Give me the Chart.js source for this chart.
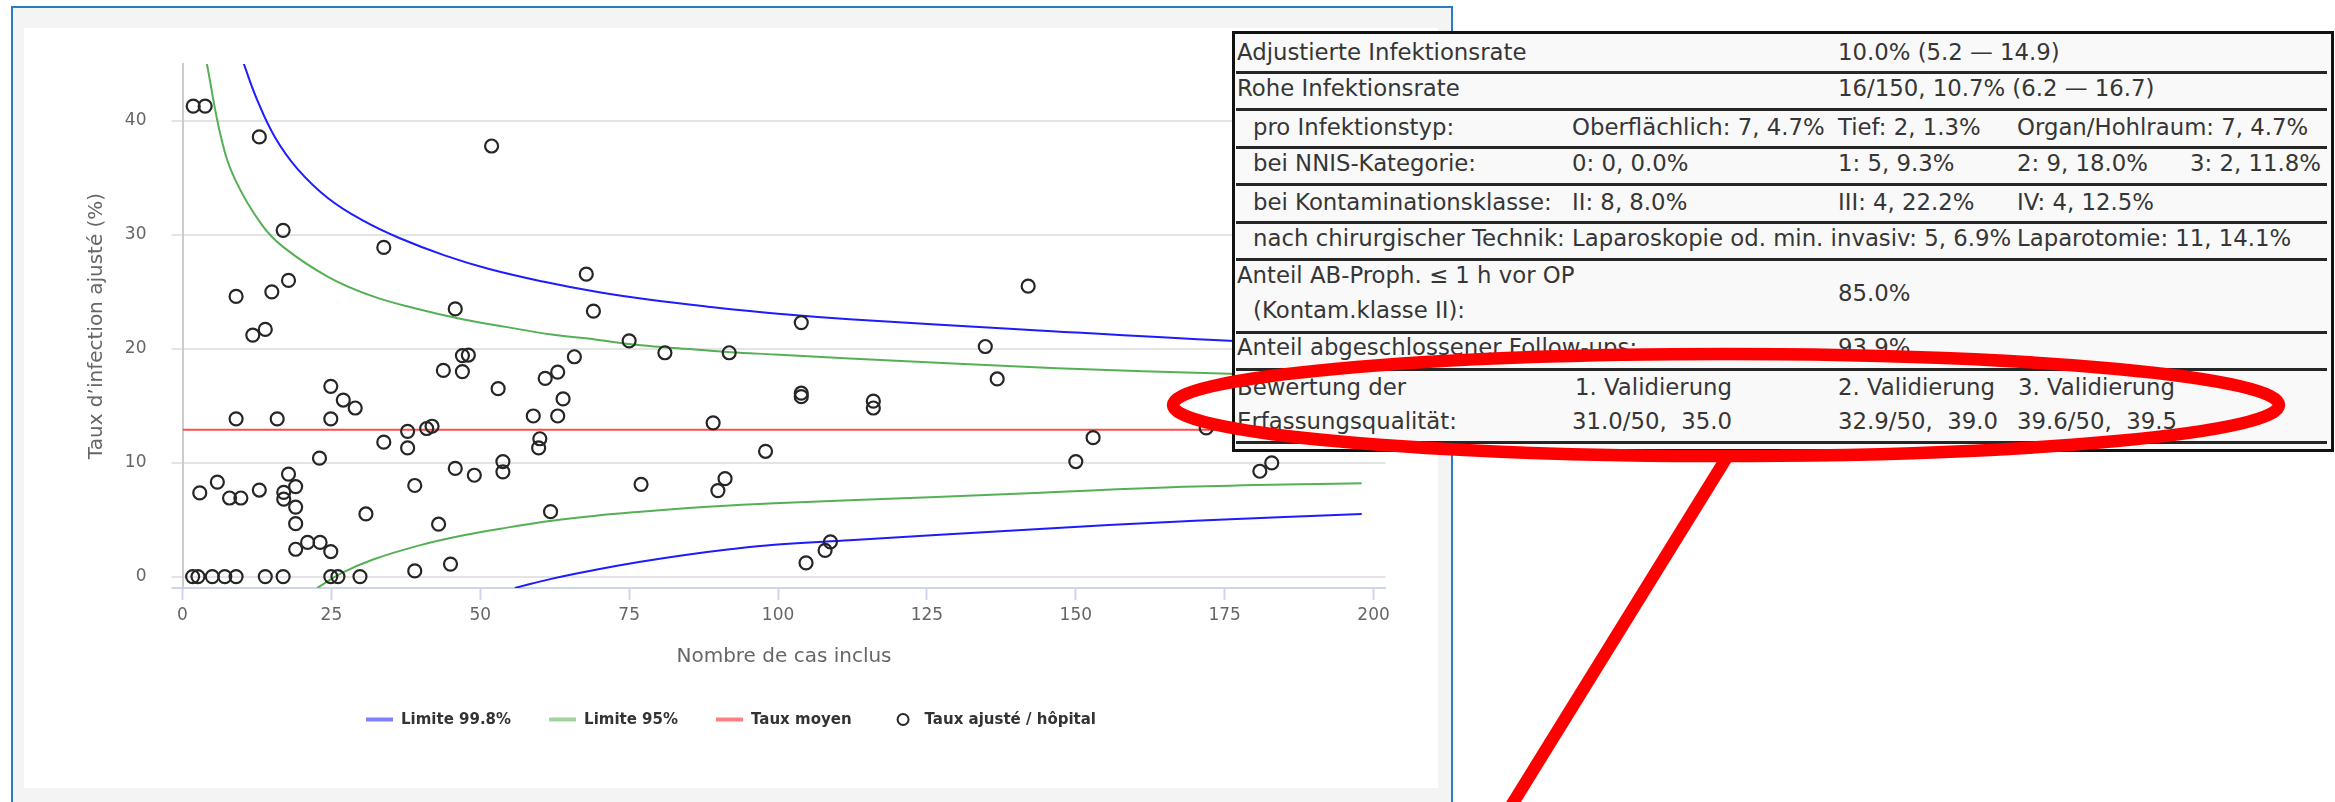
<!DOCTYPE html>
<html>
<head>
<meta charset="utf-8">
<title>Taux d’infection ajusté par hôpital</title>
<script src="https://cdn.jsdelivr.net/npm/chart.js@4.4.1/dist/chart.umd.min.js"></script>
<style>
  html, body { margin: 0; padding: 0; background: #ffffff; }
  body { position: relative; width: 2335px; height: 802px; overflow: hidden; font-family: "DejaVu Sans", sans-serif; }
  #panel { position: absolute; left: 11px; top: 6px; width: 1438px; height: 820px; border: 2px solid #2a7dc4; background: #f4f4f4; }
  #plotBg { position: absolute; left: 24px; top: 28px; width: 1414px; height: 760px; background: #ffffff; }
  #chart { position: absolute; left: 24px; top: 28px; }
  #stats { position: absolute; left: 1232px; top: 31px; width: 1096px; height: 415px; border: 3px solid #111111; background: #f9f9f9; }
  .cell { position: absolute; white-space: pre; font-size: 22.8px; line-height: 1; color: #363636; }
  .rule { position: absolute; left: 1236px; width: 1091px; height: 3px; background: #262626; }
  #callout { position: absolute; left: 0; top: 0; pointer-events: none; }
</style>
</head>
<body>
<div id="panel"></div>
<div id="plotBg"></div>
<canvas id="chart" width="1414" height="760"></canvas>
<div id="stats"></div>
<div id="statText"></div>
<svg id="callout" width="2335" height="802">
  <ellipse cx="1726" cy="405" rx="553" ry="51" fill="none" stroke="#ff0000" stroke-width="12.5"/>
  <line x1="1727" y1="457" x2="1490" y2="840" stroke="#ff0000" stroke-width="12.5"/>
</svg>

<script>
// Number of included cases per hospital and its adjusted infection rate (%)
const hospCases = [
  1.8, 3.8, 12.9, 16.9, 9.0, 15.0, 17.8, 11.8, 13.9,
  9.0, 15.9, 24.9, 24.9, 27.0, 29.0, 23.0,
  2.9, 5.85, 7.9, 9.8, 12.9, 17.0, 17.0, 17.8, 19.0, 19.0, 19.0, 19.0, 21.0, 23.1, 24.9, 30.8,
  1.7, 2.6, 5.0, 7.1, 9.0, 13.9, 16.9, 24.9, 26.1, 29.8,
  51.9, 33.8, 67.8, 45.8, 69.0, 103.9, 75.0, 81.0, 91.8, 47.0, 48.0, 65.8,
  43.8, 47.0, 63.0, 60.9, 53.0, 103.9, 103.9, 63.9, 58.9, 63.0, 89.1,
  37.8, 41.0, 41.9, 60.0, 59.8, 33.8, 37.8, 97.9, 53.8, 53.8, 45.8, 49.0,
  39.0, 77.0, 91.1, 89.9, 43.0, 61.8, 39.0, 45.0, 104.7, 107.9, 108.8,
  116.0, 116.0, 142.0, 134.8, 136.8, 152.9, 150.0, 171.9, 180.9, 182.9
];
const hospRates = [
  41.3, 41.3, 38.6, 30.4, 24.6, 25.0, 26.0, 21.2, 21.7,
  13.85, 13.85, 13.85, 16.7, 15.5, 14.8, 10.4,
  7.35, 8.3, 6.9, 6.9, 7.6, 7.4, 6.8, 9.0, 7.9, 6.1, 4.65, 2.4, 3.0, 3.0, 2.2, 5.5,
  0, 0, 0, 0, 0, 0, 0, 0, 0, 0,
  37.8, 28.9, 26.55, 23.5, 23.3, 22.3, 20.7, 19.65, 19.65, 19.4, 19.45, 19.3,
  18.1, 18.0, 17.95, 17.4, 16.5, 16.1, 15.8, 15.6, 14.1, 14.1, 13.5,
  12.75, 13.0, 13.2, 12.1, 11.3, 11.8, 11.3, 11.0, 10.1, 9.2, 9.5, 8.9,
  8.0, 8.1, 8.6, 7.55, 4.6, 5.7, 0.5, 1.1, 1.2, 2.3, 3.05,
  15.4, 14.8, 25.5, 20.2, 17.35, 12.2, 10.1, 13.05, 9.25, 9.98
];

// Mean rate
const meanRate = 12.9;
const meanSpan = [0, 198];

// Control limits (99.8 % and 95 %)
const lim998UpN   = [10.3, 12.5, 15.5, 19.3, 24.5, 30.5, 36.5, 44, 51.5, 60.5, 69.5, 78.5, 88.2, 99.5, 112, 141, 175.8, 198];
const lim998UpVal = [45, 41.9, 38.6, 35.8, 33.2, 31.2, 29.7, 28.2, 27.0, 25.9, 25.0, 24.3, 23.7, 23.1, 22.6, 21.7, 20.7, 20.3];
const lim998LoN   = [55.8, 61.9, 69.4, 76.9, 84.4, 91.9, 99.4, 112, 141, 170, 198];
const lim998LoVal = [-1, -0.2, 0.6, 1.3, 1.9, 2.4, 2.8, 3.2, 4.1, 4.9, 5.5];
const lim95UpN    = [4.1, 6.5, 8.8, 13.3, 17, 24.5, 32, 39.5, 47, 54.5, 62, 69.5, 77, 84.5, 92, 99.5, 112, 146.8, 175.8, 198];
const lim95UpVal  = [45, 38.5, 34.9, 30.9, 28.9, 26.3, 24.6, 23.5, 22.6, 21.9, 21.25, 20.8, 20.3, 20.0, 19.7, 19.5, 19.15, 18.3, 17.8, 17.6];
const lim95LoN    = [22.6, 26.7, 32, 39.5, 47, 54.5, 62, 69.4, 76.9, 84.4, 91.9, 99.4, 112, 141, 170, 198];
const lim95LoVal  = [-1, 0.3, 1.5, 2.7, 3.6, 4.3, 4.9, 5.35, 5.7, 6.0, 6.25, 6.45, 6.7, 7.3, 7.9, 8.2];

// Axis ticks and titles
const xTickValues = [0, 25, 50, 75, 100, 125, 150, 175, 200];
const yTickValues = [0, 10, 20, 30, 40];
const xTitle = 'Nombre de cas inclus';
const yTitle = 'Taux d’infection ajusté (%)';

// Summary table: rows of [left, text] at a given baseline, plus the row rules
const statRows = [
  [60,    [[1237, 'Adjustierte Infektionsrate'], [1838, '10.0% (5.2 — 14.9)']]],
  [96.7,  [[1237, 'Rohe Infektionsrate'], [1838, '16/150, 10.7% (6.2 — 16.7)']]],
  [135,   [[1253, 'pro Infektionstyp:'], [1572, 'Oberflächlich: 7, 4.7%'], [1838, 'Tief: 2, 1.3%'], [2017, 'Organ/Hohlraum: 7, 4.7%']]],
  [171.7, [[1253, 'bei NNIS-Kategorie:'], [1572, '0: 0, 0.0%'], [1838, '1: 5, 9.3%'], [2017, '2: 9, 18.0%'], [2190, '3: 2, 11.8%']]],
  [210,   [[1253, 'bei Kontaminationsklasse:'], [1572, 'II: 8, 8.0%'], [1838, 'III: 4, 22.2%'], [2017, 'IV: 4, 12.5%']]],
  [246.7, [[1253, 'nach chirurgischer Technik:'], [1572, 'Laparoskopie od. min. invasiv: 5, 6.9%'], [2017, 'Laparotomie: 11, 14.1%']]],
  [283,   [[1237, 'Anteil AB-Proph. ≤ 1 h vor OP']]],
  [301.7, [[1838, '85.0%']]],
  [318,   [[1253, '(Kontam.klasse II):']]],
  [355,   [[1237, 'Anteil abgeschlossener Follow-ups:'], [1838, '93.9%']]],
  [395,   [[1237, 'Bewertung der'], [1575, '1. Validierung'], [1838, '2. Validierung'], [2018, '3. Validierung']]],
  [429,   [[1237, 'Erfassungsqualität:'], [1572, '31.0/50,  35.0'], [1838, '32.9/50,  39.0'], [2017, '39.6/50,  39.5']]]
];
const statRules = [72, 109, 147, 184, 222, 259, 332, 369, 442];

// Build the summary table
(function buildTable() {
  const host = document.getElementById('statText');
  const fontPx = 22.8;
  const baselineOffset = 0.846 * fontPx;
  statRules.forEach(y => {
    const r = document.createElement('div');
    r.className = 'rule';
    r.style.top = (y - 1.5) + 'px';
    host.appendChild(r);
  });
  statRows.forEach(([base, cells]) => {
    cells.forEach(([left, text]) => {
      const s = document.createElement('div');
      s.className = 'cell';
      s.style.left = left + 'px';
      s.style.top = (base - baselineOffset) + 'px';
      s.textContent = text;
      host.appendChild(s);
    });
  });
})();

const toXY = (xs, ys) => xs.map((x, i) => ({ x: x, y: ys[i] }));

Chart.defaults.font.family = "'DejaVu Sans', sans-serif";

// Legend drawn centred below the axis title
const bottomLegend = {
  id: 'bottomLegend',
  afterDraw(chart) {
    const ctx = chart.ctx;
    const items = chart.data.datasets.filter(d => d.legendColor);
    ctx.save();
    ctx.font = "bold 15px 'DejaVu Sans'";
    const sym = 27, gap = 8, spacing = 38, y = 691.5;
    const widths = items.map(d => sym + gap + ctx.measureText(d.label).width);
    const total = widths.reduce((a, b) => a + b, 0) + spacing * (items.length - 1);
    let x = chart.width / 2 - total / 2;
    items.forEach((d, i) => {
      ctx.beginPath();
      ctx.strokeStyle = d.legendColor;
      if (d.legendSymbol === 'circle') {
        ctx.lineWidth = 2;
        ctx.arc(x + sym / 2, y, 5.5, 0, Math.PI * 2);
      } else {
        ctx.lineWidth = 4;
        ctx.moveTo(x, y);
        ctx.lineTo(x + sym, y);
      }
      ctx.stroke();
      ctx.fillStyle = '#333333';
      ctx.textAlign = 'left';
      ctx.textBaseline = 'middle';
      ctx.fillText(d.label, x + sym + gap, y + 1);
      x += widths[i] + spacing;
    });
    // short stub of the x axis line left of the y axis
    const a = chart.chartArea;
    ctx.strokeStyle = '#ccd6eb';
    ctx.lineWidth = 2;
    ctx.beginPath();
    ctx.moveTo(a.left - 11, a.bottom);
    ctx.lineTo(a.left, a.bottom);
    ctx.stroke();
    ctx.restore();
  }
};

// Smooth spline through the limit values
const lineStyle = { pointRadius: 0, borderWidth: 2, fill: false, cubicInterpolationMode: 'default', tension: 0.4 };

new Chart(document.getElementById('chart'), {
  type: 'line',
  data: {
    datasets: [
      Object.assign({ label: 'Limite 99.8%', data: toXY(lim998UpN, lim998UpVal), borderColor: '#1c1cff', legendColor: '#7f7fff', order: 1 }, lineStyle),
      Object.assign({ label: 'Limite 99.8%', data: toXY(lim998LoN, lim998LoVal), borderColor: '#1c1cff', order: 1 }, lineStyle),
      Object.assign({ label: 'Limite 95%', data: toXY(lim95UpN, lim95UpVal), borderColor: '#55b055', legendColor: '#9fd49f', order: 2 }, lineStyle),
      Object.assign({ label: 'Limite 95%', data: toXY(lim95LoN, lim95LoVal), borderColor: '#55b055', order: 2 }, lineStyle),
      Object.assign({ label: 'Taux moyen', data: meanSpan.map(x => ({ x: x, y: meanRate })), borderColor: '#ff4d4d', legendColor: '#ff8080', order: 3 }, lineStyle),
      {
        type: 'scatter',
        label: 'Taux ajusté / hôpital',
        data: toXY(hospCases, hospRates),
        showLine: false,
        pointStyle: 'circle',
        pointRadius: 6.5,
        pointBorderWidth: 2.2,
        borderWidth: 2.2,
        borderColor: '#262626',
        pointBorderColor: '#262626',
        backgroundColor: 'rgba(0,0,0,0)',
        pointBackgroundColor: 'rgba(0,0,0,0)',
        legendColor: '#262626',
        legendSymbol: 'circle',
        order: 0
      }
    ]
  },
  options: {
    responsive: false,
    animation: false,
    devicePixelRatio: 1,
    layout: { padding: { left: 0, top: 36, right: 52.5, bottom: 0 } },
    plugins: { legend: { display: false }, tooltip: { enabled: false } },
    scales: {
      x: {
        type: 'linear',
        min: 0,
        max: 202,
        afterBuildTicks: s => { s.ticks = xTickValues.map(v => ({ value: v })); },
        afterFit: s => { s.height = 200; },
        grid: { drawOnChartArea: false, drawTicks: true, tickLength: 12, tickColor: '#ccd6eb', tickWidth: 2, color: '#ccd6eb' },
        border: { color: '#ccd6eb', width: 2 },
        ticks: { color: '#666666', font: { size: 17 }, padding: 5, maxRotation: 0, autoSkip: false },
        title: { display: true, text: xTitle, color: '#666666', font: { size: 20 }, padding: { top: 0, bottom: 119 } }
      },
      y: {
        type: 'linear',
        min: -1,
        max: 45,
        afterBuildTicks: s => { s.ticks = yTickValues.map(v => ({ value: v })); },
        afterFit: s => { s.width = 158.5; },
        grid: { color: '#e4e4e4', lineWidth: 2, drawTicks: true, tickLength: 11, tickColor: '#e4e4e4' },
        border: { color: '#cccccc', width: 2 },
        ticks: { color: '#666666', font: { size: 17 }, padding: 25 },
        title: { display: true, text: yTitle, color: '#666666', font: { size: 20 }, padding: { top: 61, bottom: 0 } }
      }
    }
  },
  plugins: [bottomLegend]
});
</script>
</body>
</html>
